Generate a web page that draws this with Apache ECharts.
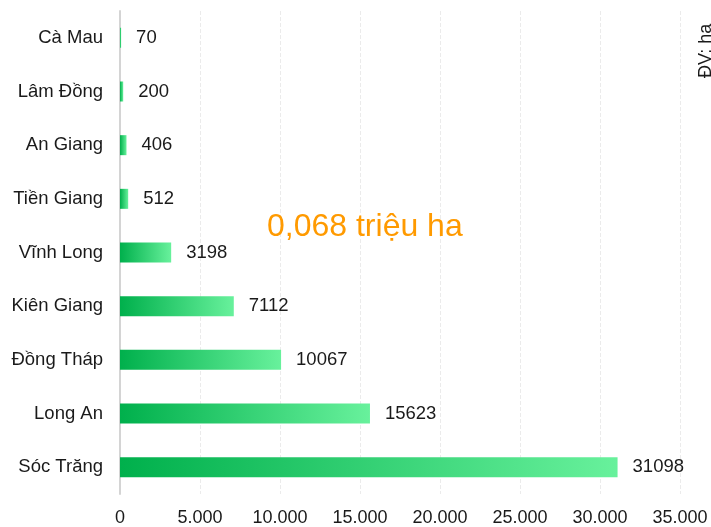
<!DOCTYPE html>
<html>
<head>
<meta charset="utf-8">
<script src="https://cdn.jsdelivr.net/npm/echarts@6/dist/echarts.min.js"></script>
<style>
  html, body { margin: 0; padding: 0; background: #fff; }
  #chart { width: 711px; height: 527px; }
</style>
</head>
<body>
<div id="chart"></div>
<script>
// bottom -> top order, as the category axis draws them
const provinces = ['Sóc Trăng', 'Long An', 'Đồng Tháp', 'Kiên Giang', 'Vĩnh Long', 'Tiền Giang', 'An Giang', 'Lâm Đồng', 'Cà Mau'];
const areaHa = [31098, 15623, 10067, 7112, 3198, 512, 406, 200, 70];
const totalNote = '0,068 triệu ha';
const unitNote = 'ĐV: ha';

const chart = echarts.init(document.getElementById('chart'));

const fmt = v => String(v).replace(/\B(?=(\d{3})+(?!\d))/g, '.');

const option = {
  animation: false,
  textStyle: { fontFamily: 'Liberation Sans, Arial, sans-serif' },
  grid: {
    top: 11,
    bottom: 31,
    left: 120,
    right: 31,
    containLabel: false
  },
  xAxis: {
    type: 'value',
    min: 0,
    max: 35000,
    interval: 5000,
    axisLine: { show: false },
    axisTick: { show: false },
    axisLabel: {
      color: '#1a1a1a',
      fontSize: 18,
      margin: 15,
      formatter: v => fmt(v)
    },
    splitLine: {
      lineStyle: {
        color: '#ebebeb',
        type: 'dashed'
      }
    }
  },
  yAxis: {
    type: 'category',
    data: provinces,
    axisTick: { show: false },
    axisLine: {
      lineStyle: {
        color: '#d4d4d4',
        width: 2
      }
    },
    axisLabel: {
      color: '#1a1a1a',
      fontSize: 18.5,
      margin: 17
    }
  },
  series: [{
    type: 'bar',
    barWidth: 20,
    data: areaHa,
    itemStyle: {
      color: new echarts.graphic.LinearGradient(0, 0, 1, 0, [
        { offset: 0, color: '#00b04c' },
        { offset: 1, color: '#68f19c' }
      ])
    },
    label: {
      show: true,
      position: 'right',
      distance: 15,
      color: '#1a1a1a',
      fontSize: 18.5
    }
  }],
  graphic: [
    {
      type: 'text',
      z: 100,
      left: 267,
      top: 211,
      style: {
        text: totalNote,
        fill: '#ff9a00',
        font: '32px Liberation Sans, Arial, sans-serif'
      }
    },
    {
      type: 'text',
      z: 100,
      x: 697,
      y: 78,
      rotation: Math.PI / 2,
      style: {
        text: unitNote,
        fill: '#1a1a1a',
        font: '18px Liberation Sans, Arial, sans-serif'
      }
    }
  ]
};

chart.setOption(option);
</script>
</body>
</html>
